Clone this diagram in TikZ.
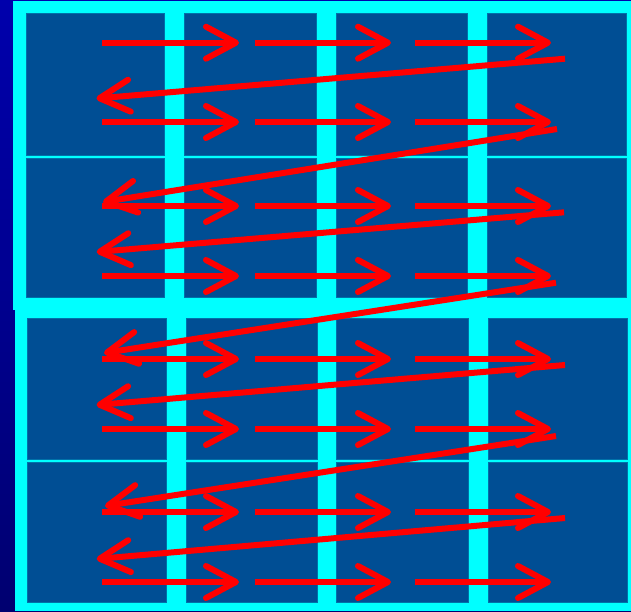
\documentclass[tikz,border=0pt]{standalone}
\usetikzlibrary{arrows.meta}

\definecolor{framecyan}{RGB}{0,255,255}
\definecolor{cellblue}{RGB}{0,78,148}
\definecolor{scanred}{RGB}{255,0,0}

\tikzset{
  scan/.style={draw=scanred, line width=6pt,
    -{Straight Barb[length=30pt,width=32pt,round]}},
  cell/.style={fill=cellblue, draw=cellblue!80!cyan, line width=0.6pt},
}

\begin{document}
\begin{tikzpicture}[x=1pt,y=-1pt]
\shade[top color={rgb,255:red,0;green,0;blue,172},
       bottom color={rgb,255:red,0;green,0;blue,112}] (0,0) rectangle (631,611);

% upper block
\fill[framecyan] (13,1) rectangle (631,310);
\foreach \xa/\xb in {26/164,184/316,336/467,487/626}{
  \path[cell] (\xa,13) rectangle (\xb,155);
  \path[cell] (\xa,158) rectangle (\xb,297);
}

% lower block
\fill[framecyan] (15,305) rectangle (631,611);
\foreach \xa/\xb in {27/166,186/317,336/468,488/627}{
  \path[cell] (\xa,318) rectangle (\xb,459);
  \path[cell] (\xa,462) rectangle (\xb,602);
}

% scan lines
\foreach \y in {42.7,122,206,276,359,429,512,582}
  \foreach \xa/\xb in {102/239,255/391,415/551}
    \draw[scan] (\xa,\y) -- (\xb,\y);

% line returns
\draw[scan] (565,58.7) -- (96.5,98.5);
\draw[scan] (557,129) -- (103,202);
\draw[scan] (564,212.3) -- (96.7,252);
\draw[scan] (556,282.7) -- (104,353);
\draw[scan] (565,365) -- (96.6,405);
\draw[scan] (556,436) -- (105,506);
\draw[scan] (565,518) -- (96.7,559);
\end{tikzpicture}
\end{document}
